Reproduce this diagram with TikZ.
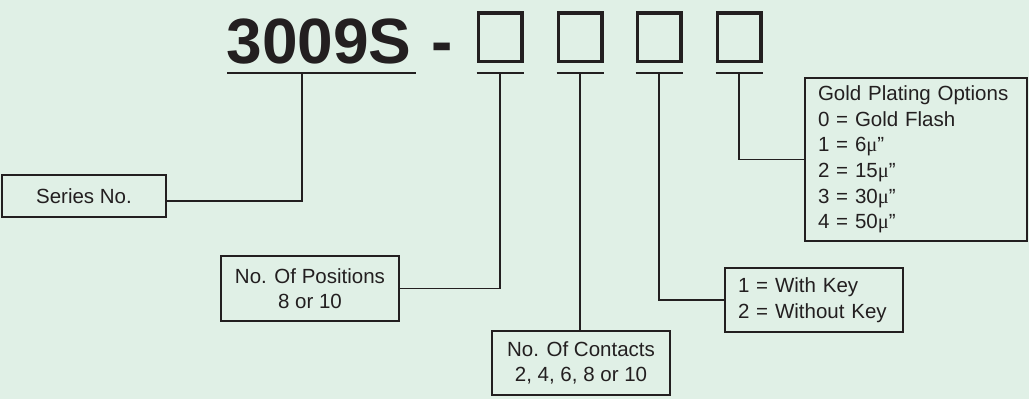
\documentclass[tikz,border=0pt]{standalone}
\usepackage{fontspec}
\setmainfont{Liberation Sans}
\newfontfamily\greekfont{Liberation Serif}
\usetikzlibrary{calc}
\definecolor{bgcol}{RGB}{224,240,230}
\definecolor{ink}{RGB}{35,31,32}
\newcommand{\mic}{{\greekfont μ}”}

\begin{document}
\begin{tikzpicture}[x=1pt,y=-1pt,
	box/.style={draw=ink,line width=1.8pt,text=ink,font=\fontsize{20.5}{25.6}\selectfont,inner sep=0pt},
	wire/.style={draw=ink,line width=1.8pt},
	slot/.style={draw=ink,line width=3.5pt,minimum width=43.5pt,minimum height=48.5pt,inner sep=0pt}]
	\fill[bgcol] (0,0) rectangle (1029,399);
	\useasboundingbox (0,0) rectangle (1029,399);
	% part number
	\node[anchor=base,text=ink,font=\fontsize{64}{64}\bfseries\selectfont] (serie) at (319,63) {3009S};
	\node[anchor=base,text=ink,font=\fontsize{64}{64}\bfseries\selectfont] (dash) at (442,63) {-};
	\draw[wire] (227,73) -- (416,73);
	\coordinate (t0) at (302,73);
	\foreach \n/\x in {1/500,2/580,3/659,4/739} {
		\node[slot] (s\n) at (\x,37) {};
		\draw[wire] (\x-23.5,73) -- (\x+23.5,73);
		\coordinate (t\n) at (\x,73);
	}
	% boxes
	\node[box,minimum width=164pt,minimum height=42pt] (series) at (84,196) {Series No.};
	\node[box,minimum width=178pt,minimum height=65pt,align=center] (pos) at (310,288.5) {No. Of Positions\\8 or 10};
	\node[box,minimum width=178pt,minimum height=64pt,align=center] (cont) at (581,363) {No. Of Contacts\\2, 4, 6, 8 or 10};
	\node[box,minimum width=178pt,minimum height=64pt,text width=152pt,align=left] (key) at (814,300) {1 = With Key\\2 = Without Key};
	\node[box,minimum width=222pt,minimum height=163pt,text width=196pt,align=left] (gold) at (916,159.5)
		{Gold Plating Options\\0 = Gold Flash\\1 = 6\mic\\2 = 15\mic\\3 = 30\mic\\4 = 50\mic};
	% leaders
	\draw[wire] (t0) |- ([yshift=-5pt]series.east);
	\draw[wire] (t1) |- (pos.east);
	\draw[wire] (t2) -- (t2 |- cont.north);
	\draw[wire] (t3) |- (key.west);
	\draw[wire] (t4) |- (gold.west);
\end{tikzpicture}
\end{document}
